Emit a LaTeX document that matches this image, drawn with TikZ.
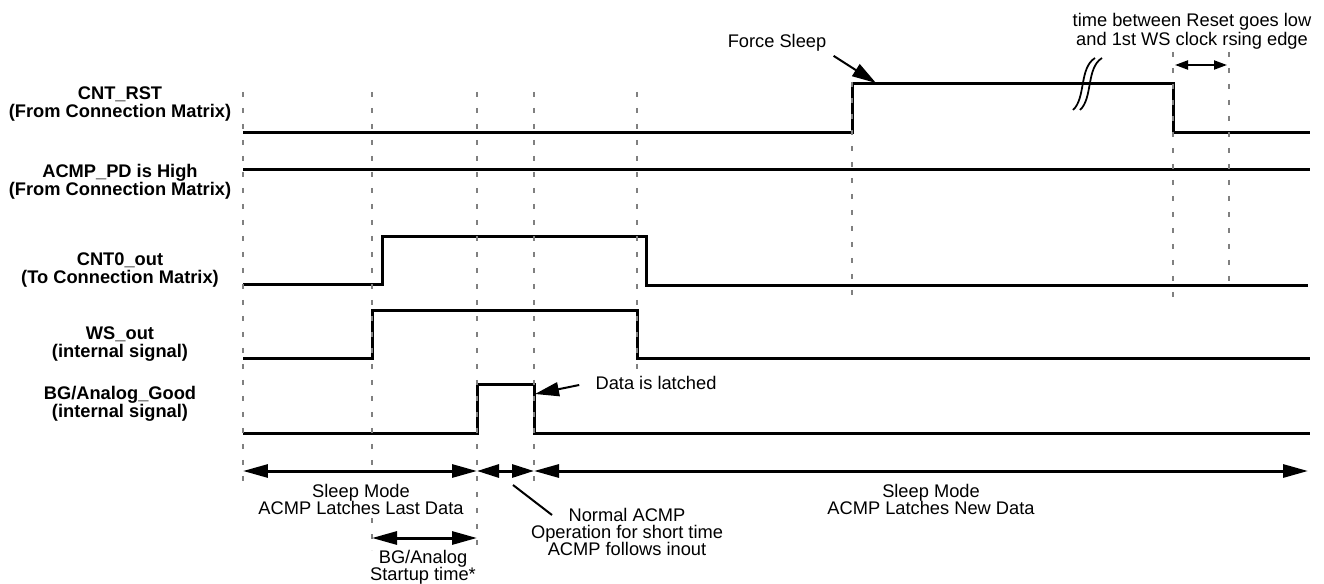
\documentclass[tikz,border=0pt]{standalone}
\usepackage{fontspec}
\setmainfont{Liberation Sans}
\usepackage{xcolor}
\usepackage{tikz}
\usetikzlibrary{arrows.meta,positioning}
\definecolor{guidegray}{RGB}{128,128,128}

\begin{document}
\begin{tikzpicture}[x=0.02cm, y=-0.02cm,
  sig/.style={line width=0.06cm},
  guide/.style={draw=guidegray, line width=0.055cm, dash pattern=on 0.1cm off 0.22cm},
  span/.style={line width=0.06cm, {Triangle[length=0.5cm,width=0.26cm]}-{Triangle[length=0.5cm,width=0.26cm]}},
  shortspan/.style={line width=0.06cm, {Triangle[length=0.44cm,width=0.26cm]}-{Triangle[length=0.44cm,width=0.26cm]}},
  tinyspan/.style={line width=0.04cm, {Triangle[length=0.26cm,width=0.18cm]}-{Triangle[length=0.26cm,width=0.18cm]}},
  lead/.style={line width=0.04cm, -{Triangle[length=0.48cm,width=0.28cm]}},
  lbl/.style={align=center, inner sep=0pt, font=\bfseries\fontsize{10.4}{10}\selectfont},
  note/.style={align=center, inner sep=0pt, font=\fontsize{10.4}{9.7}\selectfont}]
\useasboundingbox (0,0) rectangle (1324,584);

% Signal names
\node[lbl] (rst) at (120,104) {CNT\_RST\\(From Connection Matrix)};
\node[lbl] (pd) at (120,182) {ACMP\_PD is High\\(From Connection Matrix)};
\node[lbl] (cnt) at (120,270) {CNT0\_out\\(To Connection Matrix)};
\node[lbl] (ws) at (120,344) {WS\_out\\(internal signal)};
\node[lbl] (bg) at (120,404) {BG/Analog\_Good\\(internal signal)};

% Waveforms
\draw[sig] (243,133) -- (852,133) -- (852,84) -- (1173,84) -- (1173,133) -- (1310,133);
\draw[sig] (243,170) -- (1310,170);
\draw[sig] (243,284) -- (382,284) -- (382,236) -- (646,236) -- (646,285) -- (1308,285);
\draw[sig] (243,358) -- (372,358) -- (372,310) -- (639,310);
\draw[sig] (637,310) -- (637,358) -- (1310,358);
\draw[sig] (243,433) -- (477,433) -- (477,384) -- (534,384) -- (534,433) -- (1310,433);

% Break mark
\draw[line width=0.035cm] (1073,110) .. controls (1086,98) and (1079,68) .. (1095,58);
\draw[line width=0.035cm] (1080,110) .. controls (1093,98) and (1086,68) .. (1102,58);

% Guides
\foreach \x/\a/\b in {243/92/490, 372/92/472, 477/92/550, 534/92/490, 637/92/372, 852/82/305, 1173/52/305, 1229/52/285}
  \draw[guide] (\x,\a) -- (\x,\b);
\draw[guide] (372,518) -- (372,550);

% Time spans
\coordinate (s0) at (243,471);
\coordinate (s1) at (477,471);
\coordinate (s2) at (534,471);
\coordinate (s3) at (1308,471);
\coordinate (b0) at (372,538);
\coordinate (b1) at (477,538);
\coordinate (w0) at (1175,65);
\coordinate (w1) at (1227,65);
\draw[span] (s0) -- (s1);
\draw[shortspan] (s1) -- (s2);
\draw[span] (s2) -- (s3);
\draw[span] (b0) -- (b1);
\draw[tinyspan] (w0) -- (w1);

% Texts
\node[note] (last) at (361,499) {Sleep Mode\\ACMP Latches Last Data};
\node[note] (startup) at (423,567) {BG/Analog\\Startup time*};
\node[note] (normal) at (627,532) {Normal ACMP\\Operation for short time\\ACMP follows inout};
\node[note] (new) at (931,499) {Sleep Mode\\ACMP Latches New Data};
\node[note] (latched) at (656,383) {Data is latched};
\node[note] (force) at (777,43) {Force Sleep};
\node[note, font=\fontsize{10.4}{8.6}\selectfont] (gap) at (1192,31) {time between Reset goes low\\and 1st WS clock rsing edge};

% Leaders
\coordinate (fsTip) at (876,83);
\coordinate (dlTip) at (535,394);
\coordinate (nA) at (513,485);
\coordinate (nB) at (552,515);
\draw[lead] ([shift={(7,4)}]force.south east) -- (fsTip);
\draw[lead] ([shift={(-16,2)}]latched.west) -- (dlTip);
\draw[line width=0.04cm] (nA) -- (nB);
\end{tikzpicture}
\end{document}
